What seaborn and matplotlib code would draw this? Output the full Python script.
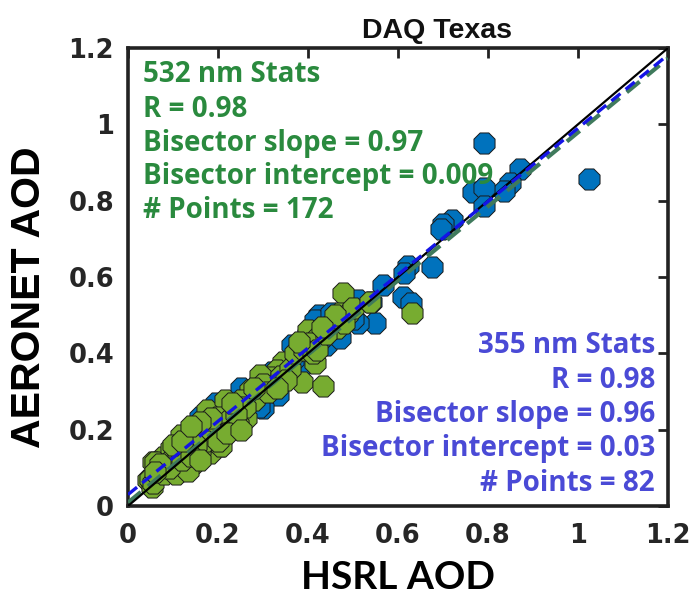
import numpy as np
import pandas as pd
import matplotlib
matplotlib.use("Agg")
import matplotlib.pyplot as plt
import seaborn as sns

# ---------------- data ----------------
x355 = [0.790, 1.025, 0.871, 0.849, 0.836, 0.766, 0.791, 0.790, 0.719, 0.700,
        0.696, 0.675, 0.623, 0.613, 0.566, 0.612, 0.629, 0.510, 0.540, 0.549,
        0.512, 0.464, 0.425, 0.416, 0.441, 0.472, 0.364, 0.382, 0.393, 0.367,
        0.334, 0.286, 0.301, 0.252, 0.196, 0.164, 0.159, 0.137, 0.145, 0.120,
        0.100, 0.080, 0.060, 0.220, 0.270, 0.320, 0.350, 0.430, 0.470, 0.450,
        0.500, 0.400, 0.290, 0.210, 0.180]
y355 = [0.952, 0.857, 0.882, 0.845, 0.826, 0.823, 0.832, 0.786, 0.749, 0.740,
        0.725, 0.627, 0.630, 0.610, 0.579, 0.548, 0.531, 0.540, 0.535, 0.479,
        0.480, 0.461, 0.500, 0.487, 0.422, 0.440, 0.422, 0.396, 0.374, 0.383,
        0.291, 0.313, 0.256, 0.308, 0.269, 0.217, 0.234, 0.199, 0.200, 0.150,
        0.120, 0.100, 0.080, 0.250, 0.290, 0.350, 0.370, 0.440, 0.490, 0.505,
        0.490, 0.450, 0.260, 0.200, 0.170]

x532 = [0.477, 0.632, 0.471, 0.486, 0.445, 0.464, 0.401, 0.419, 0.404, 0.416,
        0.386, 0.434, 0.345, 0.327, 0.323, 0.345, 0.330, 0.316, 0.293, 0.293,
        0.279, 0.271, 0.252, 0.219, 0.204, 0.175, 0.263, 0.238, 0.204, 0.182,
        0.153, 0.119, 0.204, 0.182, 0.160, 0.138, 0.101, 0.078, 0.056, 0.075,
        0.123, 0.101, 0.045, 0.053, 0.215, 0.251, 0.200, 0.222, 0.245, 0.118,
        0.148, 0.207, 0.159, 0.096, 0.096, 0.059, 0.074, 0.118, 0.141, 0.048,
        0.055, 0.081, 0.107, 0.133, 0.300, 0.310, 0.260, 0.240, 0.230, 0.280,
        0.340, 0.360, 0.370, 0.390, 0.410, 0.420, 0.440, 0.480, 0.500, 0.538,
        0.460, 0.430, 0.380, 0.350, 0.330, 0.190, 0.170, 0.150, 0.130, 0.110,
        0.090, 0.070, 0.060, 0.120, 0.140, 0.160, 0.200, 0.220, 0.250, 0.100,
        0.120, 0.185, 0.160, 0.140]
y532 = [0.557, 0.505, 0.505, 0.500, 0.470, 0.466, 0.461, 0.439, 0.426, 0.374,
        0.326, 0.314, 0.369, 0.339, 0.313, 0.378, 0.356, 0.339, 0.343, 0.295,
        0.278, 0.304, 0.252, 0.269, 0.243, 0.252, 0.230, 0.212, 0.208, 0.215,
        0.190, 0.182, 0.156, 0.138, 0.151, 0.121, 0.129, 0.129, 0.116, 0.086,
        0.099, 0.104, 0.068, 0.051, 0.278, 0.278, 0.232, 0.223, 0.215, 0.186,
        0.186, 0.156, 0.147, 0.151, 0.120, 0.116, 0.095, 0.100, 0.104, 0.072,
        0.060, 0.083, 0.083, 0.092, 0.320, 0.300, 0.260, 0.240, 0.270, 0.310,
        0.340, 0.360, 0.400, 0.410, 0.400, 0.410, 0.450, 0.480, 0.520, 0.535,
        0.500, 0.470, 0.430, 0.330, 0.310, 0.190, 0.170, 0.160, 0.140, 0.130,
        0.100, 0.110, 0.090, 0.120, 0.130, 0.120, 0.170, 0.190, 0.200, 0.160,
        0.170, 0.230, 0.220, 0.210]

fit532 = {"slope": 0.97, "intercept": 0.009}
fit355 = {"slope": 0.96, "intercept": 0.03}

stats532 = ["532 nm Stats", "R = 0.98", "Bisector slope = 0.97",
            "Bisector intercept = 0.009", "# Points = 172"]
stats355 = ["355 nm Stats", "R = 0.98", "Bisector slope = 0.96",
            "Bisector intercept = 0.03", "# Points = 82"]

ticks = [0, 0.2, 0.4, 0.6, 0.8, 1, 1.2]
tick_labels = ["0", "0.2", "0.4", "0.6", "0.8", "1", "1.2"]

# ---------------- plot ----------------
sns.set_style("white")
fig = plt.figure(figsize=(6.94, 5.96), dpi=100)
ax = fig.add_axes([128 / 694, 1 - 506 / 596, 540 / 694, 458 / 596])

df355 = pd.DataFrame({"x": x355, "y": y355})
df532 = pd.DataFrame({"x": x532, "y": y532})

sns.scatterplot(data=df355, x="x", y="y", ax=ax, marker="8", s=270,
                color="#0072BD", edgecolor="#1a1a1a", linewidth=0.7, zorder=2)
sns.scatterplot(data=df532, x="x", y="y", ax=ax, marker="8", s=270,
                color="#77AC30", edgecolor="#1a1a1a", linewidth=0.7, zorder=3)

line_x = np.array([0.0, 1.2])
ax.plot(line_x, fit532["slope"] * line_x + fit532["intercept"],
        color="#3f7a5c", lw=3.0, ls=(0, (4, 2.2)), zorder=4)
ax.plot(line_x, line_x, color="black", lw=1.6, zorder=5)
ax.plot(line_x, fit355["slope"] * line_x + fit355["intercept"],
        color="#1414e6", lw=2.4, ls=(0, (3.5, 2)), zorder=6)

ax.set_xlim(0, 1.2)
ax.set_ylim(0, 1.2)
ax.set_xticks(ticks)
ax.set_yticks(ticks)
tfont = dict(family="DejaVu Sans", weight="bold", size=18.5)
ax.set_xticklabels(tick_labels, fontdict=tfont, color="#262626")
ax.set_yticklabels(tick_labels, fontdict=tfont, color="#262626")
ax.tick_params(axis="both", which="both", direction="in", length=7, width=2,
               top=True, right=True, color="#222222")
ax.tick_params(axis="x", pad=12)
ax.tick_params(axis="y", pad=10)
for sp in ax.spines.values():
    sp.set_linewidth(2.6)
    sp.set_color("#222222")
    sp.set_visible(True)

ax.set_xlabel("HSRL AOD", family="Lato", weight="bold", size=28, labelpad=8,
              color="black")
ax.set_ylabel("AERONET AOD", family="Liberation Sans", weight="bold", size=29.5,
              color="black")
ax.yaxis.set_label_coords(-0.148, 0.457)
fig.text(437 / 694, 1 - 38 / 596, "DAQ Texas", family="Liberation Sans",
         weight="bold", size=20.5, ha="center", va="baseline", color="#111111")

sfont = dict(family="Open Sans", weight="bold", size=20)
y532_text = [1.111, 1.019, 0.930, 0.844, 0.755]
for txt, yy in zip(stats532, y532_text):
    ax.text(0.033, yy, txt, color="#2a8a3e", ha="left", va="baseline",
            zorder=7, **sfont)
y355_text = [0.401, 0.309, 0.220, 0.131, 0.039]
for txt, yy in zip(stats355, y355_text):
    ax.text(1.171, yy, txt, color="#4a4ad6", ha="right", va="baseline",
            zorder=7, **sfont)

fig.savefig("out.png", dpi=100)
